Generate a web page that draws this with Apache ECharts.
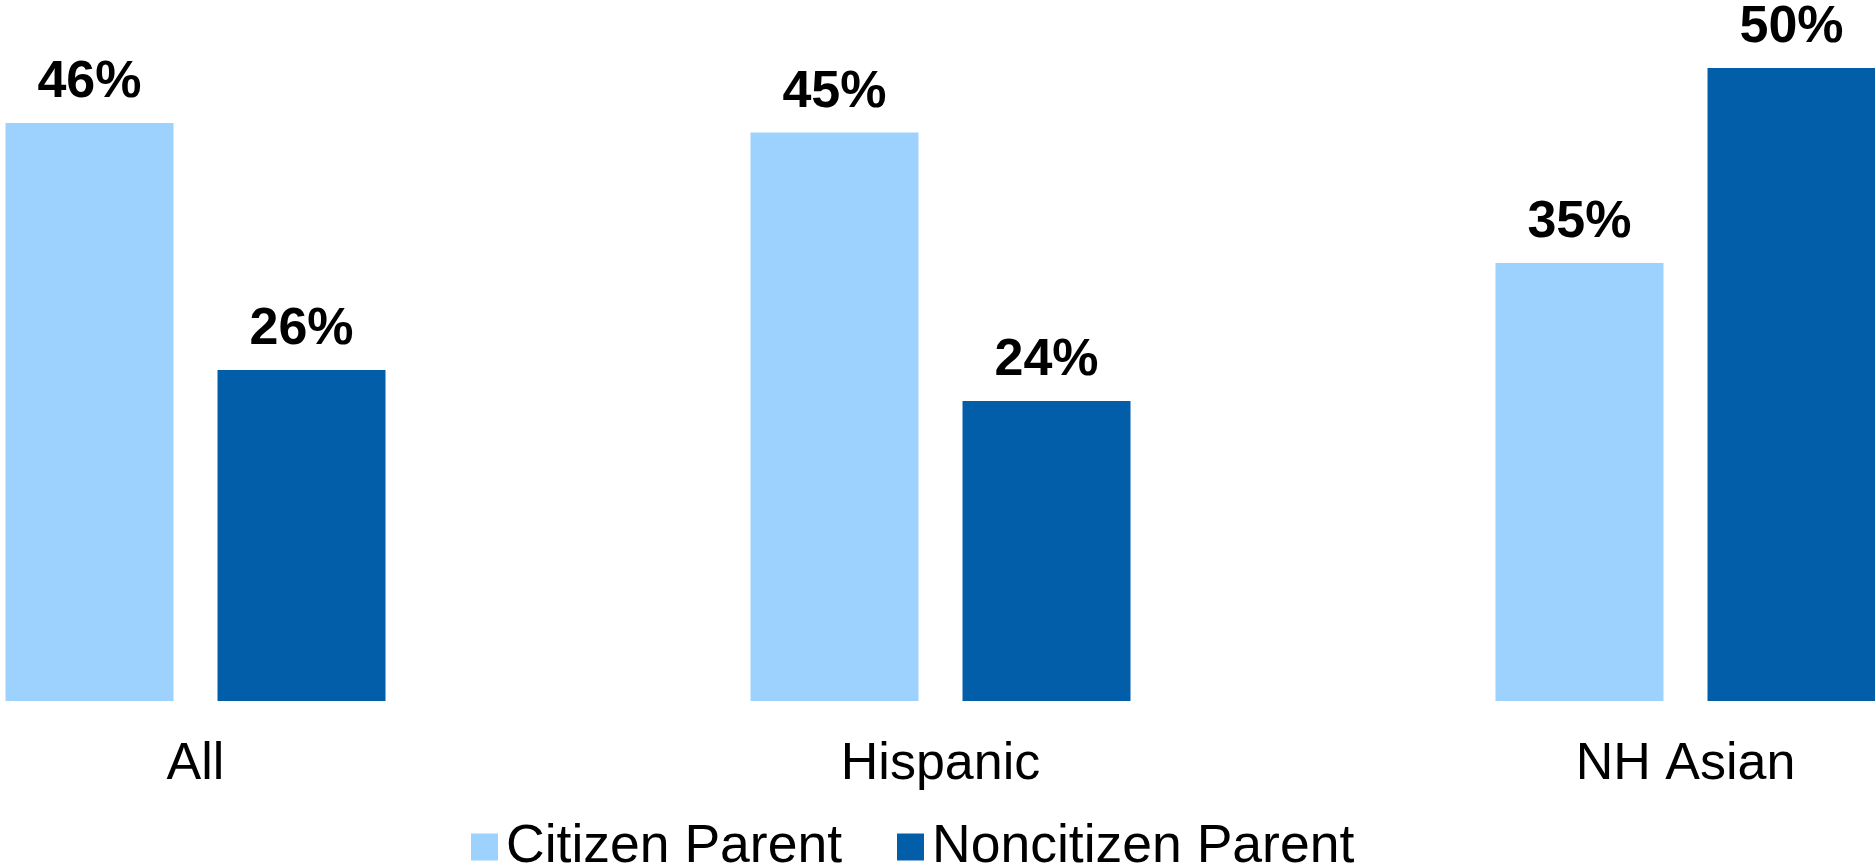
<!DOCTYPE html>
<html>
<head>
<meta charset="utf-8">
<style>
  html, body { margin: 0; padding: 0; background: #ffffff; }
  #chart { width: 1875px; height: 867px; }
</style>
<script src="https://cdn.jsdelivr.net/npm/echarts@6/dist/echarts.min.js"></script>
</head>
<body>
<div id="chart"></div>
<script>
const categories = ['All', 'Hispanic', 'NH Asian'];
const seriesNames = ['Citizen Parent', 'Noncitizen Parent'];
const citizenValues = [45.65, 44.9, 34.6];
const noncitizenValues = [26.15, 23.7, 50];

const chart = echarts.init(document.getElementById('chart'), null, { renderer: 'canvas' });
const fontFamily = '"Liberation Sans", Arial, sans-serif';

function makeSeries(name, data, color) {
  return {
    name: name,
    type: 'bar',
    data: data,
    barWidth: 168,
    barGap: '26.2%',
    itemStyle: { color: color },
    label: {
      show: true,
      position: 'top',
      distance: 14,
      formatter: function (p) { return Math.round(p.value) + '%'; },
      color: '#000000',
      fontFamily: fontFamily,
      fontWeight: 'bold',
      fontSize: 52
    }
  };
}

chart.setOption({
  animation: false,
  backgroundColor: '#ffffff',
  grid: {
    left: -177, width: 2235, top: 68, bottom: 166,
    containLabel: false,
    outerBoundsMode: 'none'
  },
  legend: {
    data: seriesNames,
    left: 466,
    top: 815,
    itemWidth: 27,
    itemHeight: 27,
    itemGap: 55,
    icon: 'rect',
    textStyle: {
      fontFamily: fontFamily,
      fontSize: 53.5,
      color: '#000000',
      padding: [0, 0, 0, 3]
    }
  },
  xAxis: {
    type: 'category',
    data: categories,
    axisLine: { show: false },
    axisTick: { show: false },
    axisLabel: {
      margin: 38,
      color: '#000000',
      fontFamily: fontFamily,
      fontSize: 52
    }
  },
  yAxis: {
    type: 'value',
    min: 0,
    max: 50,
    show: false,
    splitLine: { show: false }
  },
  series: [
    makeSeries(seriesNames[0], citizenValues, '#9DD1FE'),
    makeSeries(seriesNames[1], noncitizenValues, '#035EAA')
  ]
});
</script>
</body>
</html>
